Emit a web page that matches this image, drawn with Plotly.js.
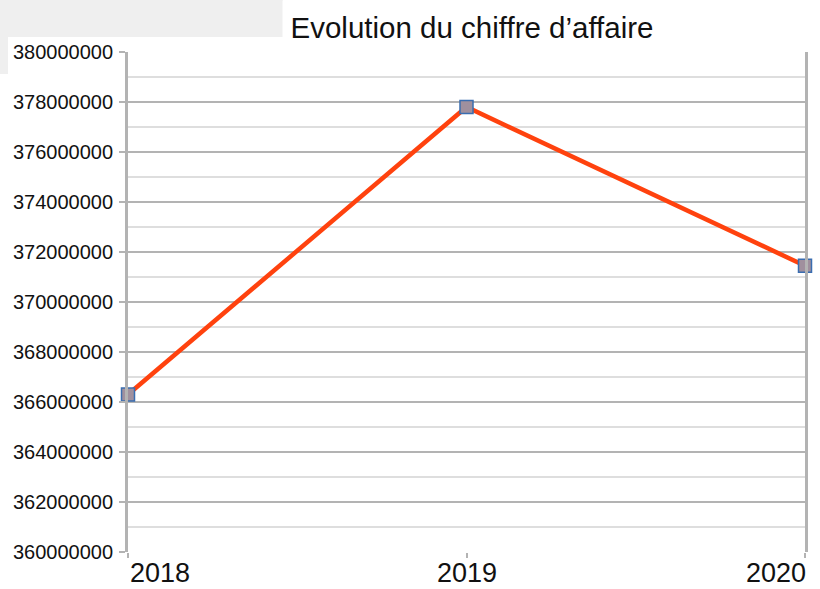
<!DOCTYPE html>
<html>
<head>
<meta charset="utf-8">
<script src="https://cdn.plot.ly/plotly-3.0.1.min.js"></script>
<style>html,body{margin:0;padding:0;background:#fff;}#chart{width:820px;height:589px;}</style>
</head>
<body>
<div id="chart"></div>
<script>
const years = ["2018", "2019", "2020"];
const chiffreAffaire = [366300000, 377800000, 371450000];
const yTickValues = [360000000, 362000000, 364000000, 366000000, 368000000, 370000000, 372000000, 374000000, 376000000, 378000000, 380000000];
const chartTitle = "Evolution du chiffre d’affaire";

const W = 820, H = 589;
const M = {l: 128, r: 15, t: 52, b: 37};
const pw = W - M.l - M.r, ph = H - M.t - M.b;
function px(x) { return (x - M.l) / pw; }
function py(y) { return 1 - (y - M.t) / ph; }

const xIdx = years.map((_, i) => i);
const anchors = ["left", "center", "right"];

const trace = {
  x: xIdx,
  y: chiffreAffaire,
  type: "scatter",
  mode: "lines+markers",
  line: {color: "#ff420e", width: 4.5},
  marker: {symbol: "square", size: 13, color: "#a0909e", line: {color: "#3a6db0", width: 1.5}},
  cliponaxis: false,
  hoverinfo: "skip"
};

const xLabels = years.map((t, i) => ({
  x: i, y: py(H), xref: "x", yref: "paper",
  text: t, showarrow: false,
  xanchor: anchors[i], yanchor: "bottom",
  xshift: i === 0 ? 1 : (i === 2 ? 2 : 0),
  borderpad: 0,
  font: {family: "Liberation Sans, Arial, sans-serif", size: 27, color: "#111"}
}));

const layout = {
  width: W, height: H,
  margin: M,
  paper_bgcolor: "#ffffff",
  plot_bgcolor: "#ffffff",
  showlegend: false,
  xaxis: {
    range: [0, 2],
    tickvals: xIdx,
    showticklabels: false,
    ticks: "outside", ticklen: 5, tickwidth: 2, tickcolor: "#b3b3b3",
    showgrid: false, zeroline: false,
    showline: false
  },
  yaxis: {
    range: [360000000, 380000000],
    tickvals: yTickValues,
    ticktext: yTickValues.map(v => String(v)),
    ticks: "outside", ticklen: 6, tickwidth: 2, tickcolor: "#b3b3b3",
    showgrid: true, gridcolor: "#b3b3b3", gridwidth: 2,
    minor: {dtick: 1000000, showgrid: true, gridcolor: "#dedede", gridwidth: 1.5, ticks: ""},
    zeroline: false,
    showline: true, linecolor: "#b3b3b3", linewidth: 3, mirror: true,
    ticklabelstandoff: 2,
    tickfont: {family: "Liberation Sans, Arial, sans-serif", size: 20, color: "#111"}
  },
  shapes: [
    {type: "rect", xref: "paper", yref: "paper", x0: px(0), x1: px(283), y0: py(37), y1: py(0),
     fillcolor: "#efefef", line: {width: 0}, layer: "below"},
    {type: "rect", xref: "paper", yref: "paper", x0: px(0), x1: px(8), y0: py(74), y1: py(0),
     fillcolor: "#efefef", line: {width: 0}, layer: "below"}
  ],
  annotations: [
    {x: px(282), y: py(0), xref: "paper", yref: "paper", xanchor: "left", yanchor: "top",
     text: chartTitle, showarrow: false, bgcolor: "#ffffff",
     borderpad: 0, width: 378, height: 53, align: "center", valign: "middle",
     font: {family: "Liberation Sans, Arial, sans-serif", size: 29.5, color: "#111"}}
  ].concat(xLabels)
};

Plotly.newPlot("chart", [trace], layout, {displayModeBar: false, staticPlot: true});
</script>
</body>
</html>
